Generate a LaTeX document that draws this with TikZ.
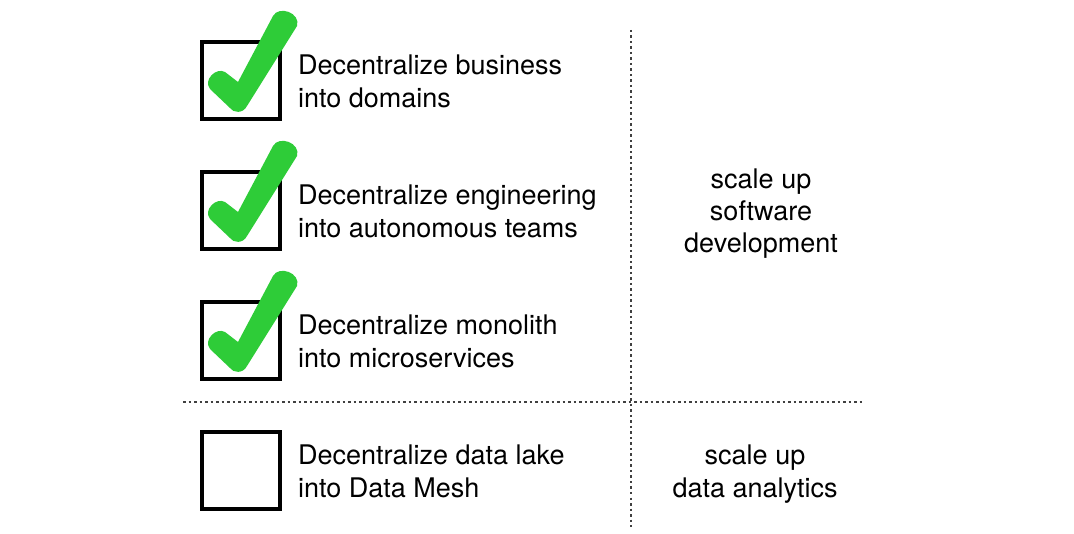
\documentclass[tikz,border=0pt]{standalone}
\usepackage{fontspec}
\setmainfont{TeX Gyre Heros}
\definecolor{checkgreen}{RGB}{46,204,56}
\begin{document}
\begin{tikzpicture}[x=1pt,y=-1pt,
  cbox/.style={draw=black,line width=4pt,minimum width=78pt,minimum height=77pt,inner sep=0pt,anchor=north west},
  txt/.style={font=\fontsize{27}{33}\selectfont,inner sep=0pt,anchor=base west},
  rtxt/.style={font=\fontsize{27}{33}\selectfont,inner sep=0pt,anchor=base},
  sep/.style={line width=1.1pt,black!75,dash pattern=on 2.5pt off 3pt},
  checkfill/.style={fill=checkgreen,draw=none}]
\useasboundingbox (0,0) rectangle (1074,534);
\fill[white] (0,0) rectangle (1074,534);

% separators
\coordinate (vtop) at (631,30);
\coordinate (vbot) at (631,527);
\coordinate (hl) at (183,402);
\coordinate (hr) at (863,402);
\draw[sep] (vtop) -- (vbot);
\draw[sep] (hl) -- (hr);

% boxes
\node[cbox] (b1) at (200,40) {};
\node[cbox] (b2) at (200,170) {};
\node[cbox] (b3) at (200,300) {};
\node[cbox] (b4) at (200,430) {};

% checks
\foreach \yy in {0,130,260}{
  \begin{scope}[shift={(200,40+\yy)}]
    \fill[checkfill] (38,42) -- (73,-24) .. controls (79,-35) and (101,-27) .. (97,-14)
      -- (47,66) .. controls (43,74) and (33,73) .. (30,68)
      -- (10,49) .. controls (3,40) and (16,27) .. (25,32) -- cycle;
  \end{scope}
}

% left texts
\node[txt] (t1a) at (298,74.5) {Decentralize business};
\node[txt] (t1b) at (298,107.5) {into domains};
\node[txt] (t2a) at (298,204.5) {Decentralize engineering};
\node[txt] (t2b) at (298,237.5) {into autonomous teams};
\node[txt] (t3a) at (298,334.5) {Decentralize monolith};
\node[txt] (t3b) at (298,367.5) {into microservices};
\node[txt] (t4a) at (298,464.5) {Decentralize data lake};
\node[txt] (t4b) at (298,497.5) {into Data Mesh};

% right texts
\node[rtxt] (r1a) at (761,188.5) {scale up};
\node[rtxt] (r1b) at (761,220.5) {software};
\node[rtxt] (r1c) at (761,252.5) {development};
\node[rtxt] (r2a) at (755,464.5) {scale up};
\node[rtxt] (r2b) at (755,497.5) {data analytics};
\end{tikzpicture}
\end{document}
